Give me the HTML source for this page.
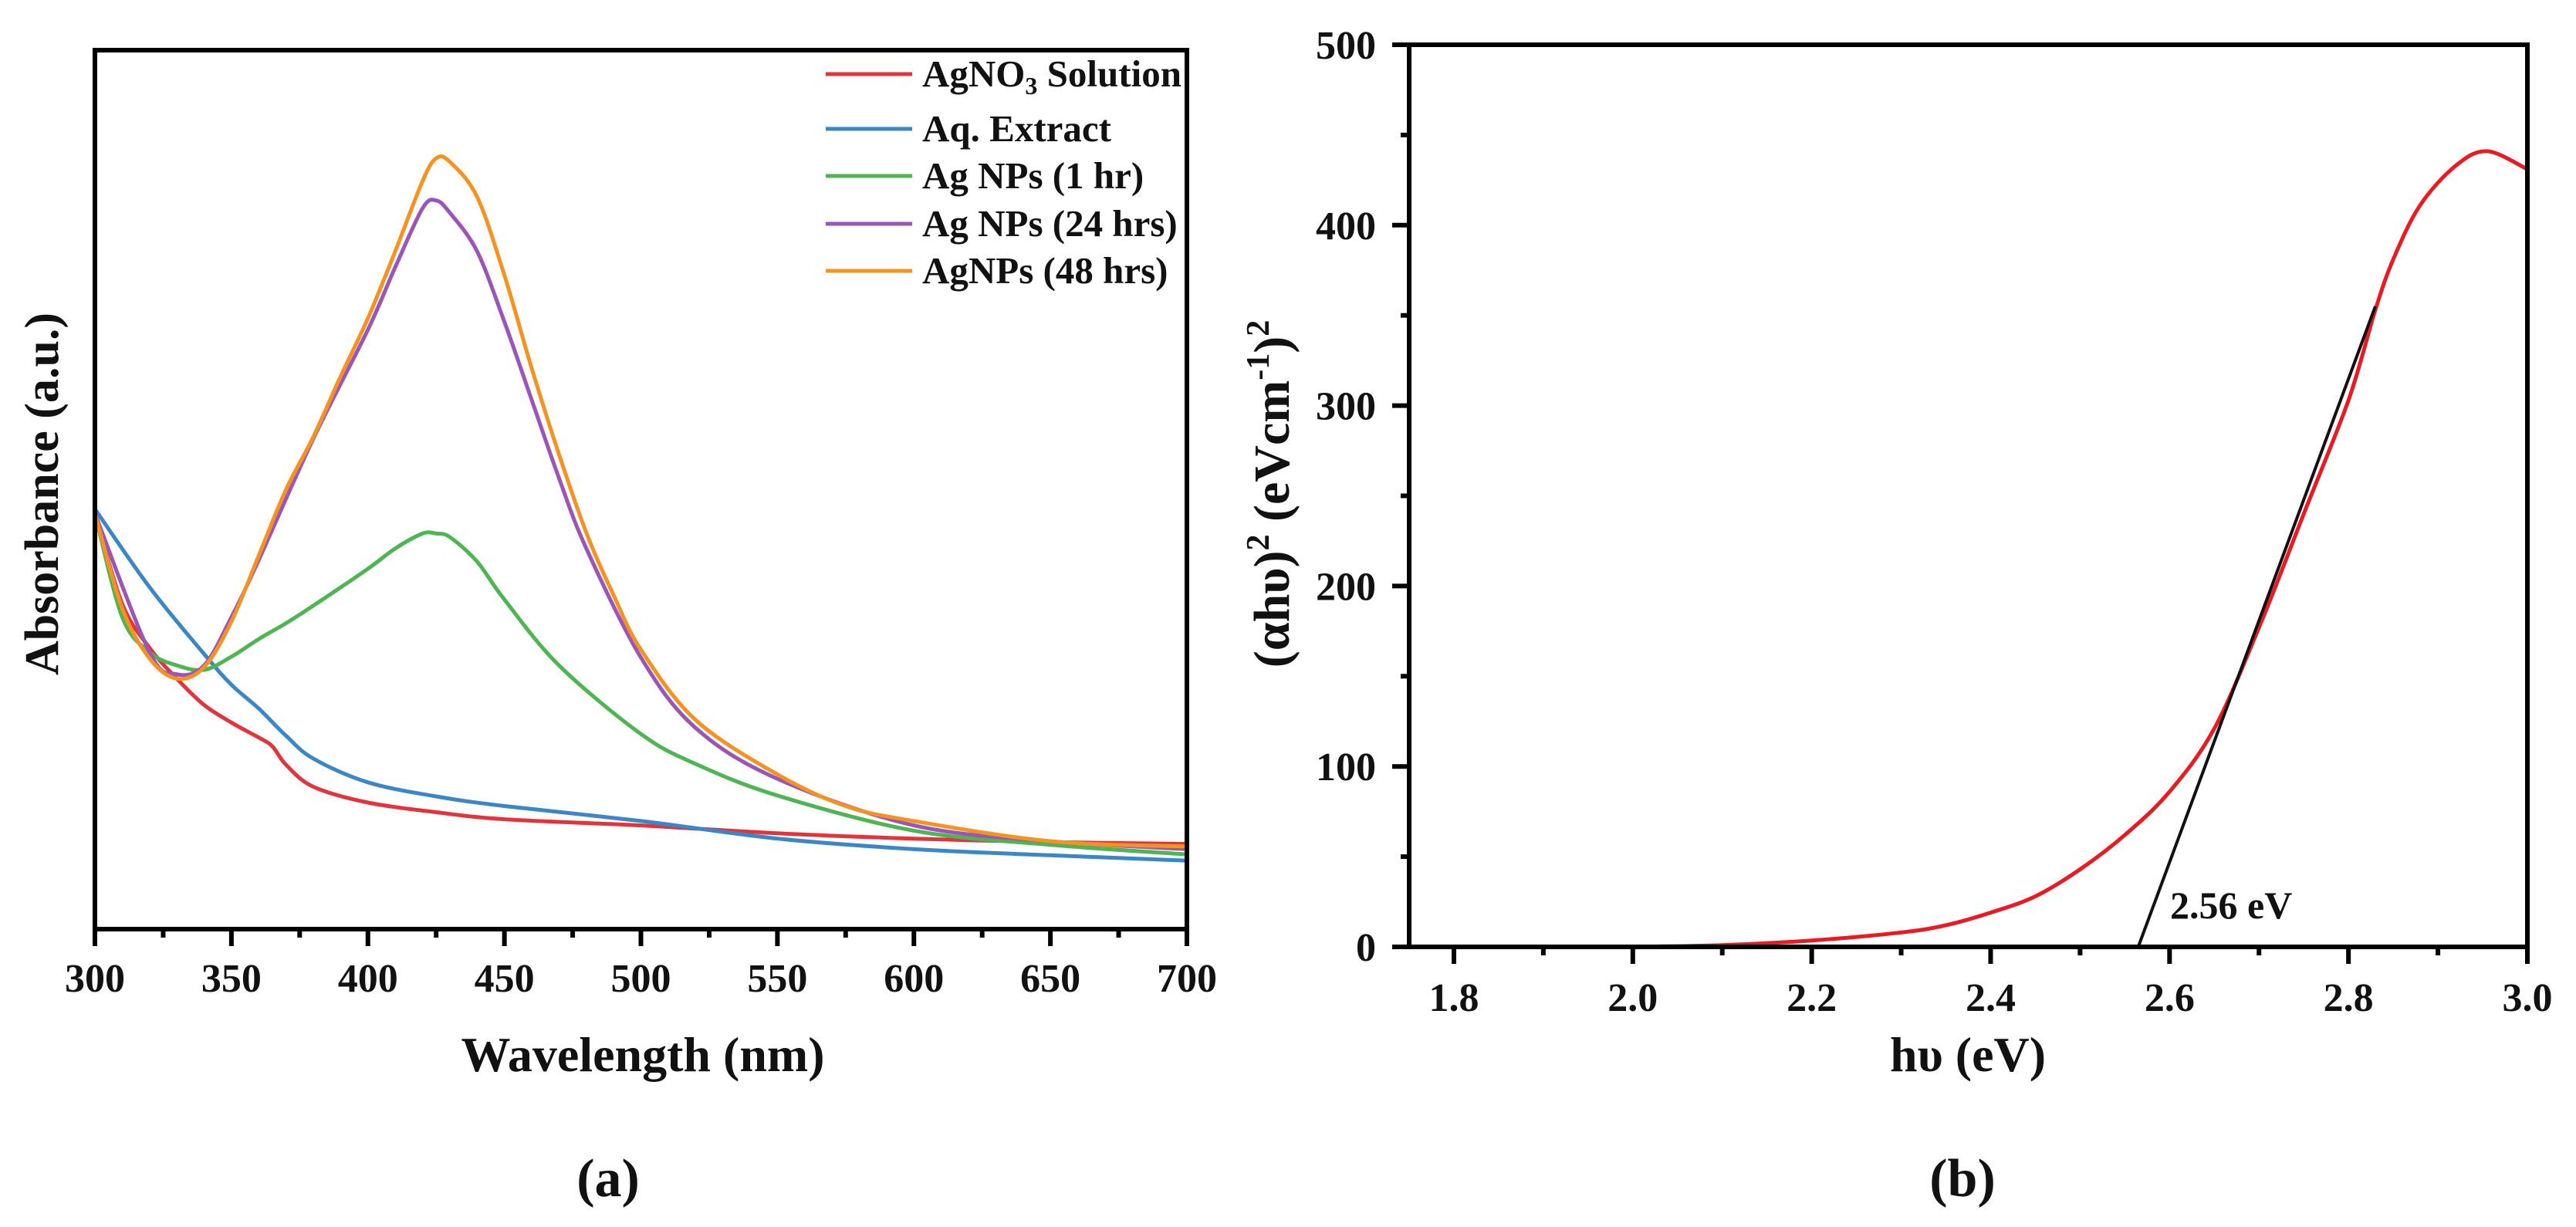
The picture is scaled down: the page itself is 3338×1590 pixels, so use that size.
<!DOCTYPE html>
<html><head><meta charset="utf-8">
<style>
html,body{margin:0;padding:0;background:#fff;}
svg{display:block;}
text{font-family:"Liberation Serif",serif;fill:#111;}
</style></head>
<body>
<svg id="fig" width="3338" height="1590" viewBox="0 0 3338 1590" xmlns="http://www.w3.org/2000/svg">
<g id="pa"></g>
<g id="pb"></g>
</svg>
<script>
// ---------- Panel (a) data ----------
const aWave = {
  agno3:  [300,310,320,330,340,350,360,365,370,380,400,425,450,500,550,600,650,700],
  extract:[300,320,340,350,360,370,380,400,425,450,500,550,600,650,700],
  np1:    [300,310,320,330,340,350,360,370,380,400,410,420,425,430,440,450,470,500,520,550,600,650,700],
  np24:   [300,320,330,340,350,360,380,400,410,420,425,430,440,450,460,470,480,500,520,550,600,650,700],
  np48:   [300,310,320,330,340,350,360,370,380,390,400,410,420,425,430,440,450,460,470,480,490,500,520,550,575,600,650,700]
};
const aAgNO3   = [47.3,37.0,32.0,28.5,25.5,23.5,21.8,20.8,18.7,16.2,14.4,13.3,12.5,11.8,10.9,10.3,9.9,9.7];
const aExtract = [47.8,38.9,31.3,27.8,25.1,22.0,19.4,16.7,15.1,14.0,12.3,10.3,9.1,8.4,7.8];
const aNP1     = [47.3,35.5,31.5,30.0,29.5,31.0,33.0,34.8,36.8,41.0,43.3,45.0,45.0,44.6,41.8,37.5,30.0,22.2,18.8,15.2,11.2,9.6,8.5];
const aNP24    = [47.3,31.5,29.0,30.0,35.5,42.0,55.8,68.2,75.3,82.0,82.9,81.5,77.1,69.1,60.2,51.3,43.3,30.9,22.9,17.1,11.8,10.0,9.1];
const aNP48    = [47.3,36.5,30.8,28.5,29.8,35.0,42.5,50.0,56.0,62.9,69.5,77.1,85.1,87.7,87.3,83.3,74.4,63.8,54.0,45.1,38.0,31.8,23.8,17.6,14.0,12.3,10.0,9.4];
const aXTicks = [300,350,400,450,500,550,600,650,700];
const aLegend = ["AgNO3 Solution","Aq. Extract","Ag NPs (1 hr)","Ag NPs (24 hrs)","AgNPs (48 hrs)"];
// ---------- Panel (b) data ----------
const bEnergy = [2.0,2.1,2.2,2.3,2.35,2.4,2.45,2.5,2.55,2.6,2.65,2.7,2.75,2.8,2.83,2.85,2.88,2.92,2.955,3.0];
const bAlpha  = [0,1,3.5,8,12,19,28,43,62,86,121,177,240,303,353,381,411,433,441,431];
const bFitX = [2.565,2.83];
const bFitY = [0,355];
const bXTicks = [1.8,2.0,2.2,2.4,2.6,2.8,3.0];
const bYTicks = [0,100,200,300,400,500];

const NS="http://www.w3.org/2000/svg";
function mk(parent,tag,attrs,txt){const e=document.createElementNS(NS,tag);for(const k in attrs)e.setAttribute(k,attrs[k]);if(txt!==undefined)e.textContent=txt;parent.appendChild(e);return e;}
function smooth(P){
  let d='M'+P[0][0].toFixed(1)+','+P[0][1].toFixed(1);
  for(let i=0;i<P.length-1;i++){
    const p0=P[i-1]||P[i],p1=P[i],p2=P[i+1],p3=P[i+2]||P[i+1];
    const c1=[p1[0]+(p2[0]-p0[0])/6,p1[1]+(p2[1]-p0[1])/6];
    const c2=[p2[0]-(p3[0]-p1[0])/6,p2[1]-(p3[1]-p1[1])/6];
    d+=' C'+c1[0].toFixed(1)+','+c1[1].toFixed(1)+' '+c2[0].toFixed(1)+','+c2[1].toFixed(1)+' '+p2[0].toFixed(1)+','+p2[1].toFixed(1);
  }
  return d;
}

// ===== Panel a =====
const pa=document.getElementById('pa');
const aL=123,aR=1538,aT=65,aB=1204;
const ax=v=>aL+(v-300)/400*(aR-aL);
const ay=v=>aB-v/100*(aB-aT);
const series=[[aWave.agno3,aAgNO3,'#e2343c','agno3-solution-line'],[aWave.extract,aExtract,'#3a86c6','aq-extract-line'],[aWave.np1,aNP1,'#4db552','ag-nps-1hr-line'],[aWave.np24,aNP24,'#9b55b8','ag-nps-24hrs-line'],[aWave.np48,aNP48,'#f59322','agnps-48hrs-line']];
series.forEach(s=>{
  const P=s[0].map((w,i)=>[ax(w),ay(s[1][i])]);
  const pl=mk(pa,'path',{d:smooth(P),fill:'none',stroke:s[2],'stroke-width':5,'stroke-linejoin':'round'});
  
  
});
const fa=mk(pa,'rect',{x:aL,y:aT,width:aR-aL,height:aB-aT,fill:'none',stroke:'#000','stroke-width':6});


for(let w=300;w<=700;w+=25){
  const major=(w%50===0);
  const t=mk(pa,'line',{x1:ax(w),x2:ax(w),y1:aB,y2:aB+(major?22:11),stroke:'#000','stroke-width':6});
  
  
}
aXTicks.forEach(v=>{
  const t=mk(pa,'text',{x:ax(v),y:1285,'text-anchor':'middle','font-size':52,'font-weight':'bold'},String(v));
  
  
});
const legY=[96,167,228,290,351];
aLegend.forEach((lab,i)=>{
  const l=mk(pa,'line',{x1:1070,x2:1182,y1:legY[i],y2:legY[i],stroke:series[i][2],'stroke-width':5});
  
  
  const t=mk(pa,'text',{x:1195,y:legY[i]+16,'font-size':49,'font-weight':'bold'});
  
  
  if(lab==="AgNO3 Solution"){
    mk(t,'tspan',{},'AgNO');
    mk(t,'tspan',{'font-size':32,dy:10},'3');
    mk(t,'tspan',{dy:-10},' Solution');
  } else t.textContent=lab;
});
</script>
<script>
(function(){
const pa=document.getElementById('pa'),pb=document.getElementById('pb');
const NS="http://www.w3.org/2000/svg";
function mk(parent,tag,attrs,txt){const e=document.createElementNS(NS,tag);for(const k in attrs)e.setAttribute(k,attrs[k]);if(txt!==undefined)e.textContent=txt;parent.appendChild(e);return e;}
let t=mk(pa,'text',{x:833,y:1388,'text-anchor':'middle','font-size':64,'font-weight':'bold'},'Wavelength (nm)');


t=mk(pa,'text',{x:0,y:0,transform:'translate(75,640) rotate(-90)','text-anchor':'middle','font-size':62,'font-weight':'bold'},'Absorbance (a.u.)');


t=mk(pa,'text',{x:788,y:1550,'text-anchor':'middle','font-size':70,'font-weight':'bold'},'(a)');



// ===== Panel b =====
const bL=1826,bR=3275,bT=58,bB=1227;
const bx=v=>bL+(v-1.75)/1.25*(bR-bL);
const by=v=>bB-v/500*(bB-bT);
const P=bEnergy.map((e,i)=>[bx(e),by(bAlpha[i])]);
let p=mk(pb,'path',{d:smooth(P),fill:'none',stroke:'#ea1a22','stroke-width':5,'stroke-linejoin':'round'});


p=mk(pb,'line',{x1:bx(bFitX[0]),y1:by(bFitY[0]),x2:bx(bFitX[1]),y2:by(bFitY[1]),stroke:'#111','stroke-width':4});


p=mk(pb,'rect',{x:bL,y:bT,width:bR-bL,height:bB-bT,fill:'none',stroke:'#000','stroke-width':6});


for(let i=0;i<=12;i++){
  const v=1.8+i*0.1; if(v>3.001)break;
  const major=(i%2===0);
  const l=mk(pb,'line',{x1:bx(v),x2:bx(v),y1:bB,y2:bB+(major?22:11),stroke:'#000','stroke-width':6});
  
  
}
for(let v=0;v<=500;v+=50){
  const major=(v%100===0);
  const l=mk(pb,'line',{x1:bL,x2:bL-(major?22:11),y1:by(v),y2:by(v),stroke:'#000','stroke-width':6});
  
  
}
bXTicks.forEach(v=>{
  const l=mk(pb,'text',{x:bx(v),y:1310,'text-anchor':'middle','font-size':52,'font-weight':'bold'},v.toFixed(1));
  
  
});
bYTicks.forEach(v=>{
  const l=mk(pb,'text',{x:1783,y:by(v)+18,'text-anchor':'end','font-size':52,'font-weight':'bold'},String(v));
  
  
});
t=mk(pb,'text',{x:2812,y:1190,'font-size':50,'font-weight':'bold'},'2.56 eV');


t=mk(pb,'text',{x:2550,y:1388,'text-anchor':'middle','font-size':64,'font-weight':'bold'},'hυ (eV)');


t=mk(pb,'text',{x:0,y:0,transform:'translate(1670,640) rotate(-90)','text-anchor':'middle','font-size':66,'font-weight':'bold'});


mk(t,'tspan',{},'(αhυ)');
mk(t,'tspan',{'font-size':42,dy:-26},'2');
mk(t,'tspan',{dy:26},' (eVcm');
mk(t,'tspan',{'font-size':42,dy:-26},'-1');
mk(t,'tspan',{dy:26},')');
mk(t,'tspan',{'font-size':42,dy:-26},'2');
t=mk(pb,'text',{x:2543,y:1550,'text-anchor':'middle','font-size':70,'font-weight':'bold'},'(b)');


})();
</script>
</body></html>
